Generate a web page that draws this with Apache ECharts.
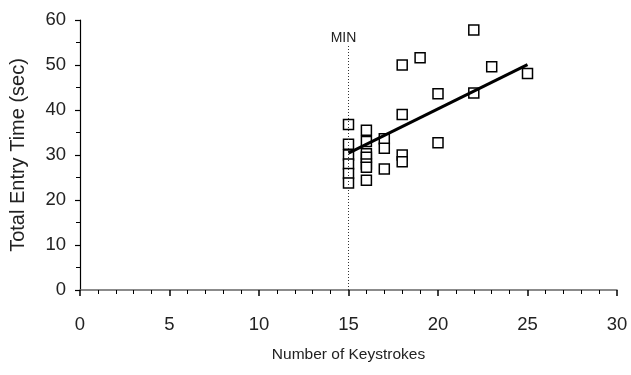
<!DOCTYPE html>
<html>
<head>
<meta charset="utf-8">
<script src="https://cdn.jsdelivr.net/npm/echarts@6/dist/echarts.min.js"></script>
<style>html,body{margin:0;padding:0;background:#fff}#c{width:631px;height:375px}</style>
</head>
<body>
<div id="c"></div>
<script>
var keystrokes = [15,15,15,15,15,15, 16,16,16,16,16,16,16, 17,17,17, 18,18,18,18, 19, 20,20, 22,22, 23, 25];
var entryTimes = [36.8,32.4,30.0,28.0,25.9,23.8, 35.5,33.0,30.3,29.5,28.0,27.3,24.4, 33.6,31.5,26.9, 50.0,39.0,30.0,28.5, 51.6, 43.6,32.7, 57.8,43.8, 49.6, 48.1];
var fitX = [15, 25];
var fitY = [30.4, 50.1];
var minX = [15, 15];
var minY = [0, 54.5];
var xTicks = [0, 5, 10, 15, 20, 25, 30];
var yTicks = [0, 10, 20, 30, 40, 50, 60];

var pts = keystrokes.map(function(k, i){ return [k, entryTimes[i]]; });
var fit = fitX.map(function(x, i){ return [x, fitY[i]]; });
var minLine = minX.map(function(x, i){ return [x, minY[i]]; });

var font = 'Liberation Sans';
var chart = echarts.init(document.getElementById('c'), null, {renderer:'canvas'});
chart.setOption({
  animation: false,
  backgroundColor: '#fff',
  grid: {left: 77, right: 14, top: 20, bottom: 85, containLabel: false},
  xAxis: {
    type: 'value', min: xTicks[0], max: xTicks[xTicks.length-1], interval: 5,
    name: 'Number of Keystrokes', nameLocation: 'middle', nameGap: 57,
    nameTextStyle: {fontFamily: font, fontSize: 15.5, color: '#222'},
    axisLine: {show: true, onZero: false, lineStyle: {color: '#666', width: 1.5}},
    axisTick: {show: true, length: 6, lineStyle: {color: '#000', width: 1.5}},
    minorTick: {show: true, splitNumber: 5, length: 4, lineStyle: {color: '#000', width: 1}},
    splitLine: {show: false},
    axisLabel: {fontFamily: font, fontSize: 18.5, color: '#222', margin: 25}
  },
  yAxis: {
    type: 'value', min: yTicks[0], max: yTicks[yTicks.length-1], interval: 10,
    name: 'Total Entry Time (sec)', nameLocation: 'middle', nameGap: 52, nameRotate: 90,
    nameTextStyle: {fontFamily: font, fontSize: 20, color: '#222'},
    axisLine: {show: true, onZero: false, lineStyle: {color: '#000', width: 1.2}},
    axisTick: {show: true, length: 5, lineStyle: {color: '#000', width: 1.2}},
    minorTick: {show: true, splitNumber: 2, length: 4, lineStyle: {color: '#000', width: 1}},
    splitLine: {show: false},
    axisLabel: {fontFamily: font, fontSize: 18.5, color: '#222', margin: 14}
  },
  series: [
    {
      type: 'line', data: minLine, symbol: 'none', silent: true,
      lineStyle: {color: '#333', width: 1, type: [1, 2]},
      label: {show: false},
      markPoint: {
        symbol: 'circle', symbolSize: 0,
        data: [{coord: minLine[1], value: 'MIN'}],
        label: {show: true, position: 'top', distance: 0, formatter: 'MIN', fontFamily: font, fontSize: 14, color: '#222', offset: [-5, 0]}
      }
    },
    {
      type: 'line', data: fit, symbol: 'none', silent: true,
      lineStyle: {color: '#000', width: 3}
    },
    {
      type: 'scatter', data: pts, symbol: 'rect', symbolSize: 10,
      itemStyle: {color: '#fff', borderColor: '#000', borderWidth: 1.5, opacity: 1}
    }
  ]
});
</script>
</body>
</html>
